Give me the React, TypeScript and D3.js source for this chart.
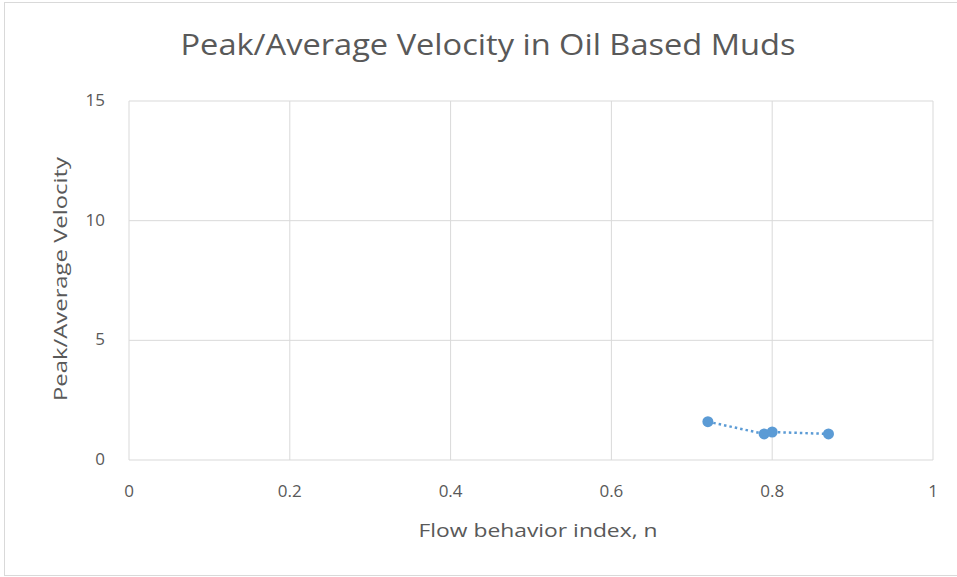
import React from "react";
import * as d3 from "d3";

const flowIndex = [0.72, 0.79, 0.8, 0.87];
const peakAvgVelocity = [1.6, 1.09, 1.17, 1.09];
const xTicks = [0, 0.2, 0.4, 0.6, 0.8, 1];
const yTicks = [0, 5, 10, 15];
const title = "Peak/Average Velocity in Oil Based Muds";
const xLabel = "Flow behavior index, n";
const yLabel = "Peak/Average Velocity";

export default function App() {
  const W = 957, H = 577;
  const left = 129, right = 933, top = 101, bottom = 460;
  const x = d3.scaleLinear().domain([0, 1]).range([left, right]);
  const y = d3.scaleLinear().domain([0, 15]).range([bottom, top]);
  const pts = flowIndex.map((v, i) => [v, peakAvgVelocity[i]] as [number, number]);
  const line = d3.line<[number, number]>().x(d => x(d[0])).y(d => y(d[1]));
  const font = "'Open Sans', sans-serif";
  return (
    <svg width={W} height={H} style={{ position: "absolute", left: 0, top: 0 }} fontFamily={font}>
      <rect x={0} y={0} width={W} height={H} fill="#fff" />
      <rect x={4.5} y={2.5} width={W + 10} height={573} fill="none" stroke="#d9d9d9" />
      {xTicks.map(t => (
        <line key={"vx" + t} x1={x(t)} x2={x(t)} y1={top} y2={bottom} stroke="#d9d9d9" strokeWidth={1} />
      ))}
      {yTicks.map(t => (
        <line key={"hy" + t} x1={left} x2={right} y1={y(t)} y2={y(t)} stroke="#d9d9d9" strokeWidth={1} />
      ))}
      {yTicks.map(t => (
        <text key={"yl" + t} x={105} y={y(t) - 1} dy="0.35em" textAnchor="end" fontSize={17} fill="#595959">{t}</text>
      ))}
      {xTicks.map(t => (
        <text key={"xl" + t} x={x(t)} y={491} dy="0.35em" textAnchor="middle" fontSize={17} fill="#595959">{t}</text>
      ))}
      <path d={line(pts) || ""} fill="none" stroke="#5B9BD5" strokeWidth={2.5} strokeDasharray="2.5 3" />
      {pts.map((p, i) => (
        <circle key={i} cx={x(p[0])} cy={y(p[1])} r={5.5} fill="#5B9BD5" />
      ))}
      <text x={488} y={45} dy="0.35em" textAnchor="middle" fontSize={29} fill="#595959" textLength={615} lengthAdjust="spacingAndGlyphs">{title}</text>
      <text x={538} y={531} dy="0.35em" textAnchor="middle" fontSize={18} fill="#595959" textLength={239} lengthAdjust="spacingAndGlyphs">{xLabel}</text>
      <text transform={`translate(61,${279}) rotate(-90)`} dy="0.35em" textAnchor="middle" fontSize={18} fill="#595959" textLength={244} lengthAdjust="spacingAndGlyphs">{yLabel}</text>
    </svg>
  );
}
